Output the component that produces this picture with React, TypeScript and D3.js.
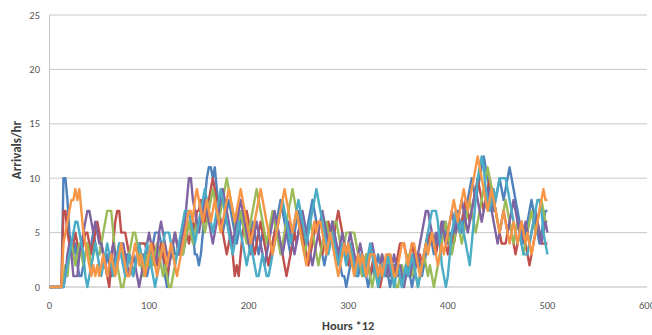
import React from "react";
import * as d3 from "d3";

const W = 652;
const H = 335;

// Each character is one value sampled every 2 units of x (0..500); a=10, b=11, c=12
const STEP = 2;
const seriesNames = ["S1", "S2", "S3", "S4", "S5", "S6"];
const seriesColors = ["#4F81BD", "#C0504D", "#9BBB59", "#8064A2", "#4BACC6", "#F79646"];

const blueData =
  "0000000aa8533421123434543" +
  "3432321233432233212343321" +
  "2345554310234333334566533" +
  "2358abbab9765678765456765" +
  "4565434543234567876543456" +
  "7654567876543234565432110" +
  "1232112321012123211210121" +
  "2101211012321234543454565" +
  "454567656789a989abcba9878" +
  "9a989aba98765456787654567" +
  "7";
const redData =
  "0000000775434543345543456" +
  "5432102467755543212344443" +
  "3443234321234543456545657" +
  "7876789a98765434531213567" +
  "6543456543234565432123454" +
  "5654323456543456545676543" +
  "2343232123212321012123212" +
  "3444323432332345454345654" +
  "345456567876789a98789a987" +
  "6544456543456543234565444" +
  "4";
const greenData =
  "0000000121343234323432343" +
  "3456777532100123455432123" +
  "2323432121001234334565456" +
  "67656789876789a9876567654" +
  "5678987654567654345678987" +
  "6543456543234565456654345" +
  "5555432123210121232123210" +
  "0121232121012321210123456" +
  "5434565456787656789aba987" +
  "6567876545654345676567876" +
  "6";
const purpleData =
  "0000000013431113456776565" +
  "4432123432344321232101234" +
  "54323565432345434568aa876" +
  "5678765456789876545678765" +
  "4345654323456765434565434" +
  "5676543234567654565434543" +
  "4543234321234321232121232" +
  "1210121232345677654545654" +
  "5676567876567898767898765" +
  "4567656787654565456765456" +
  "5";
const aquaData =
  "0000000012345665431012343" +
  "2123432123432123212343234" +
  "3210123455543234567776545" +
  "6789876567898765434565432" +
  "3432112321123456787654567" +
  "8765456789876543454323432" +
  "3432123212343210121232101" +
  "2101212321012345677764210" +
  "135676565432468abcb987898" +
  "9aaaa98765454333456788754" +
  "3";
const orangeData =
  "0000000456788989754321212" +
  "1232123212343211234323212" +
  "3432123432343212345677689" +
  "8767876787656789876789876" +
  "5456789876543456789876567" +
  "6543234565665434543212343" +
  "4321232321233321212333211" +
  "2344323443212343454323434" +
  "5678767898789abcba9878987" +
  "6567654565456545434567898" +
  "8";

const seriesData = [blueData, redData, greenData, purpleData, aquaData, orangeData];

const xTicks = [0, 100, 200, 300, 400, 500, 600];
const yTicks = [0, 5, 10, 15, 20, 25];
const xTitle = "Hours *12";
const yTitle = "Arrivals/hr";

function decode(s: string): [number, number][] {
  return s.split("").map((c, i) => [i * STEP, parseInt(c, 16)]);
}

export default function App() {
  const left = 49.5;
  const right = 647;
  const top = 15;
  const bottom = 287;
  const x = d3.scaleLinear().domain([0, 600]).range([left, right]);
  const y = d3.scaleLinear().domain([0, 25]).range([bottom, top]);
  const line = d3
    .line<[number, number]>()
    .x((d) => x(d[0]))
    .y((d) => y(d[1]));
  const font = "Carlito, 'Open Sans', 'Liberation Sans', Arial, sans-serif";

  return (
    <svg
      width={W}
      height={H}
      style={{ position: "absolute", left: 0, top: 0, background: "#fff" }}
    >
      {yTicks
        .filter((t) => t > 0)
        .map((t) => (
          <line key={"g" + t} x1={left} x2={right} y1={y(t)} y2={y(t)} stroke="#C8C8C8" strokeWidth={1} />
        ))}
      <line x1={left} x2={left} y1={top} y2={bottom} stroke="#C8C8C8" strokeWidth={1} />
      <line x1={left} x2={right} y1={bottom} y2={bottom} stroke="#B8B8B8" strokeWidth={1} />
      {yTicks.map((t) => (
        <text
          key={"yt" + t}
          x={40}
          y={y(t)}
          dy="0.35em"
          textAnchor="end"
          fontSize={10.5}
          fill="#595959"
          fontFamily={font}
        >
          {t}
        </text>
      ))}
      {xTicks.map((t) => (
        <text
          key={"xt" + t}
          x={x(t)}
          y={305}
          dy="0.35em"
          textAnchor="middle"
          fontSize={10.5}
          fill="#595959"
          fontFamily={font}
        >
          {t}
        </text>
      ))}
      {seriesData.map((s, i) => (
        <path
          key={seriesNames[i]}
          d={line(decode(s)) || ""}
          fill="none"
          stroke={seriesColors[i]}
          strokeWidth={2.4}
          strokeLinejoin="round"
        />
      ))}
      <text
        x={x(300)}
        y={326}
        dy="0.35em"
        textAnchor="middle"
        fontSize={12.5}
        fontWeight="bold"
        fill="#404040"
        fontFamily={font}
      >
        {xTitle}
      </text>
      <text
        transform={`translate(16,150) rotate(-90)`}
        dy="0.35em"
        textAnchor="middle"
        fontSize={13}
        fontWeight="bold"
        fill="#404040"
        fontFamily={font}
      >
        {yTitle}
      </text>
    </svg>
  );
}
